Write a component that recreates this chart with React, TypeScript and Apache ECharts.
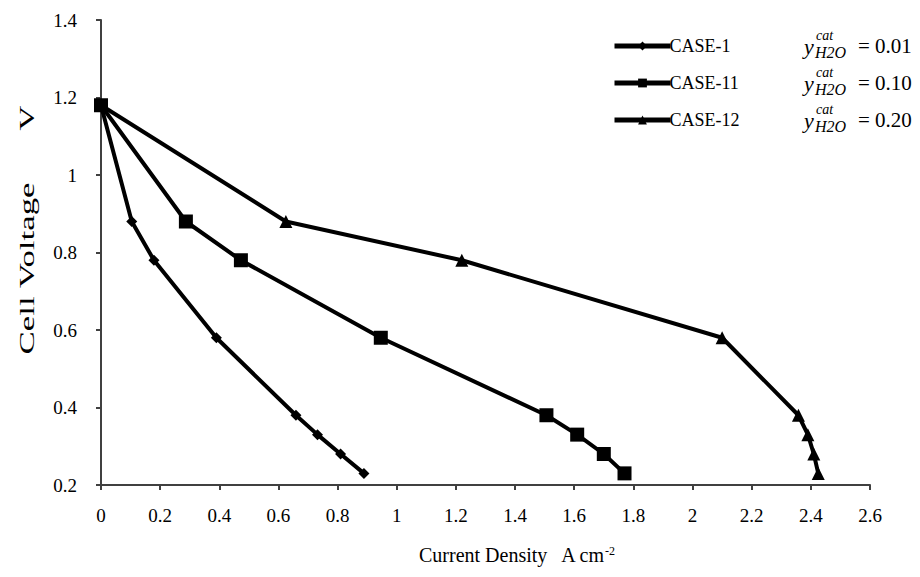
import React, { useEffect, useRef } from "react";
import * as echarts from "echarts";

const seriesNames = ["CASE-1", "CASE-11", "CASE-12"];
const fractions = ["0.01", "0.10", "0.20"];
const xTitle = "Current Density   A cm{sup|-2}";
const yTitle = "Cell Voltage      V";
const case1: [number, number][] = [
  [0, 1.18], [0.104, 0.88], [0.179, 0.78], [0.39, 0.58], [0.659, 0.38], [0.732, 0.33], [0.81, 0.28], [0.889, 0.23],
];
const case11: [number, number][] = [
  [0, 1.18], [0.287, 0.88], [0.473, 0.78], [0.946, 0.58], [1.506, 0.38], [1.61, 0.33], [1.70, 0.28], [1.77, 0.23],
];
const case12: [number, number][] = [
  [0, 1.18], [0.625, 0.88], [1.22, 0.78], [2.10, 0.58], [2.358, 0.38], [2.39, 0.33], [2.41, 0.28], [2.425, 0.23],
];
const symbols = ["diamond", "rect", "triangle"];
const symbolSizes = [11, 14, 13];

const FONT = "Times New Roman";

export default function App() {
  const ref = useRef<HTMLDivElement>(null);
  useEffect(() => {
    if (!ref.current) return;
    const chart = echarts.init(ref.current, null, { renderer: "svg" });
    const data = [case1, case11, case12];
    const rowY = [45, 82, 119];
    const graphics: any[] = [
      {
        type: "text",
        x: 27,
        y: 230,
        rotation: Math.PI / 2,
        scaleX: 1.66,
        style: { text: yTitle, fontFamily: FONT, fontSize: 21, fill: "#000", textAlign: "center", textVerticalAlign: "middle" },
      },
    ];
    fractions.forEach((f, i) => {
      const y = rowY[i];
      graphics.push(
        { type: "text", x: 804, y: y + 1, style: { text: "y", fontFamily: FONT, fontStyle: "italic", fontSize: 22, fill: "#000", textVerticalAlign: "middle" } },
        { type: "text", x: 816, y: y - 10, style: { text: "cat", fontFamily: FONT, fontStyle: "italic", fontSize: 14, fill: "#000", textVerticalAlign: "middle" } },
        { type: "text", x: 815, y: y + 7, style: { text: "H2O", fontFamily: FONT, fontStyle: "italic", fontSize: 16, fill: "#000", textVerticalAlign: "middle" } },
        { type: "text", x: 858, y: y + 1, style: { text: "= " + f, fontFamily: FONT, fontSize: 21, fill: "#000", textVerticalAlign: "middle" } }
      );
    });
    chart.setOption({
      animation: false,
      backgroundColor: "#fff",
      textStyle: { fontFamily: FONT },
      grid: { left: 101, right: 50, top: 20, bottom: 92, containLabel: false },
      legend: {
        orient: "vertical",
        left: 607,
        top: 32,
        itemWidth: 56,
        itemHeight: 11,
        itemGap: 19,
        data: seriesNames,
        lineStyle: { width: 5, color: "#000" },
        textStyle: { fontFamily: FONT, fontSize: 18, color: "#000", padding: [0, 0, 0, -6] },
      },
      xAxis: {
        type: "value",
        min: 0,
        max: 2.6,
        interval: 0.2,
        name: xTitle,
        nameLocation: "middle",
        nameGap: 60,
        nameTextStyle: {
          fontFamily: FONT, fontSize: 20, color: "#000", padding: [0, 0, 0, 62],
          rich: { sup: { fontFamily: FONT, fontSize: 12, color: "#000", verticalAlign: "top", padding: [0, 0, 8, 0] } },
        },
        splitLine: { show: false },
        axisLine: { lineStyle: { color: "#404040", width: 2 } },
        axisTick: { show: true, length: 5, lineStyle: { color: "#404040", width: 2 } },
        axisLabel: { fontFamily: FONT, fontSize: 19, color: "#000", margin: 21 },
      },
      yAxis: {
        type: "value",
        min: 0.2,
        max: 1.4,
        interval: 0.2,
        splitLine: { show: false },
        axisLine: { show: true, lineStyle: { color: "#404040", width: 2 } },
        axisTick: { show: true, length: 5, lineStyle: { color: "#404040", width: 2 } },
        axisLabel: { fontFamily: FONT, fontSize: 19, color: "#000", margin: 24 },
      },
      series: seriesNames.map((n, i) => ({
        name: n,
        type: "line",
        data: data[i],
        symbol: symbols[i],
        symbolSize: symbolSizes[i],
        showSymbol: true,
        lineStyle: { color: "#000", width: 4 },
        itemStyle: { color: "#000", borderWidth: 0 },
        z: i === 1 ? 5 : 3,
      })),
      graphic: graphics,
    });
    return () => chart.dispose();
  }, []);
  return <div ref={ref} style={{ width: 920, height: 577, margin: -8 }} />;
}
